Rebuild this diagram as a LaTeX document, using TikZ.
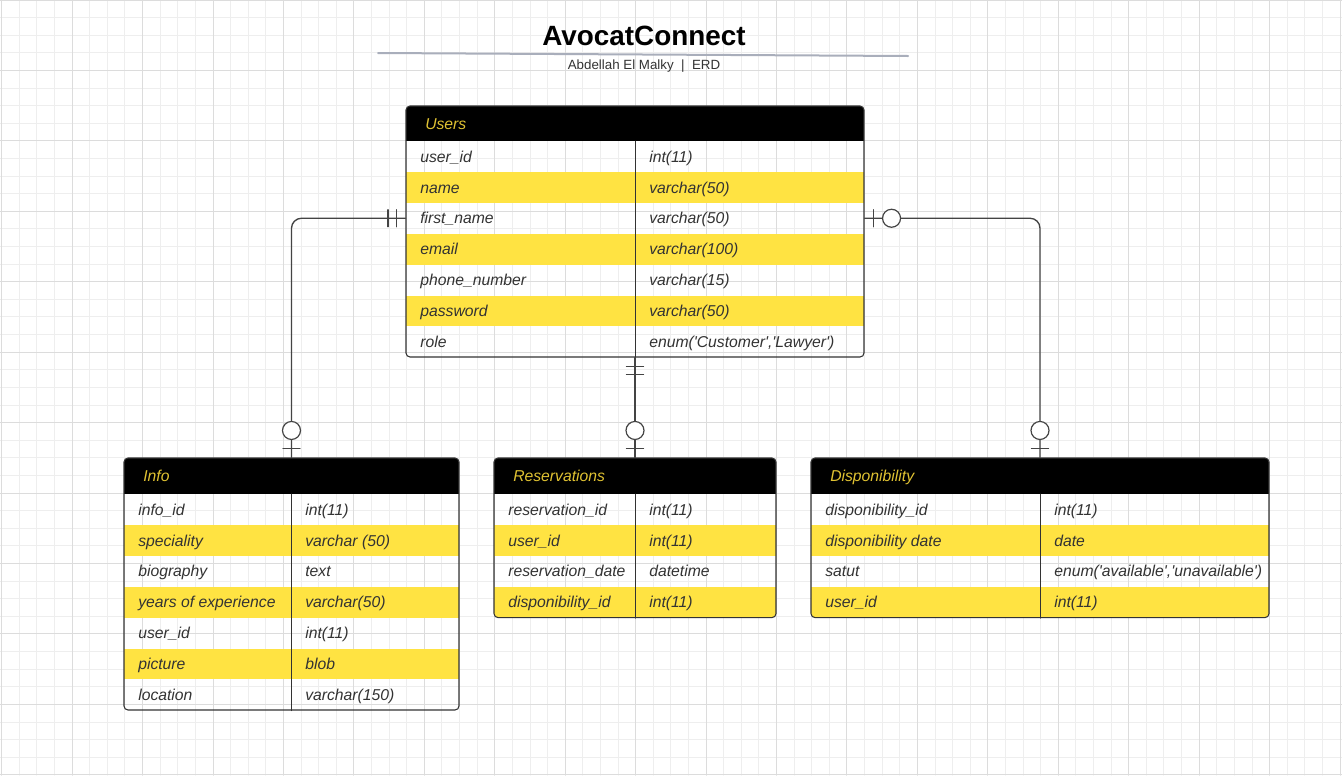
\documentclass[tikz,border=0pt]{standalone}
\usepackage{fontspec}
\setmainfont{Liberation Sans}
\usetikzlibrary{positioning,calc,fit}
\definecolor{rowyellow}{HTML}{FFE342}
\definecolor{hdrgold}{HTML}{E0C232}
\definecolor{txtgray}{HTML}{333333}
\definecolor{framegray}{HTML}{333333}
\definecolor{linkgray}{HTML}{444444}
\definecolor{gridminor}{HTML}{EEEEEE}
\definecolor{gridmajor}{HTML}{DCDCDC}
\definecolor{rulegray}{HTML}{A9AEBB}
\newcommand{\squote}{\textquotesingle}
\begin{document}
\begin{tikzpicture}[x=0.75pt, y=-0.75pt, line join=round, line cap=round,
  font=\fontsize{11.8}{14}\selectfont\itshape,
  tblcell/.style={anchor=base west, inner sep=0pt, text=txtgray},
  tblhead/.style={anchor=base west, inner sep=0pt, text=hdrgold},
  tblframe/.style={draw=framegray, line width=0.8pt, rounded corners=3pt, inner sep=0pt},
  divline/.style={draw=framegray, line width=0.75pt},
  relline/.style={draw=linkgray, line width=1pt},
  tickmark/.style={draw=linkgray, line width=0.9pt},
  optring/.style={draw=linkgray, line width=0.9pt, fill=white}]
\useasboundingbox (0,0) rectangle (1342,775);
\fill[white] (0,0) rectangle (1342,775);
% grid
\foreach \k in {0,...,76} \draw[gridminor, line width=0.75pt] ({1.7+17.61*\k},0) -- ({1.7+17.61*\k},775);
\foreach \k in {0,...,44} \draw[gridminor, line width=0.75pt] (0,{17.61*\k}) -- (1342,{17.61*\k});
\foreach \k in {0,...,19} \draw[gridmajor, line width=0.75pt] ({1.7+70.44*\k},0) -- ({1.7+70.44*\k},775);
\foreach \k in {0,...,11} \draw[gridmajor, line width=0.75pt] (0,{70.44*\k}) -- (1342,{70.44*\k});
% title
\node[font=\fontsize{20.9}{24}\selectfont\bfseries, text=black] (title) at (644,35.5) {AvocatConnect};
\draw[rulegray, line width=1.5pt] (378,53) -- (908,56);
\node[font=\fontsize{10}{12}\selectfont, text=txtgray] (subtitle) at (644,66.3) {Abdellah El Malky\ \ |\ \ ERD};
% Users
\begin{scope}
  \clip[rounded corners=3pt] (406,106) rectangle (864,357);
  \fill[black] (406,106) rectangle (864,141);
  \foreach \i in {2,4,6} \fill[rowyellow] (406,{141+30.9*(\i-1)}) rectangle (864,{141+30.9*\i});
\end{scope}
\node[tblframe, fit={(406,106) (864,357)}] (users) {};
\draw[divline] (635,141) -- (users.south);
\node[tblhead] (users-h) at (425,129.2) {Users};
\foreach \i/\f/\t in {1/user\_id/int(11), 2/name/varchar(50), 3/first\_name/varchar(50), 4/email/varchar(100),
  5/phone\_number/varchar(15), 6/password/varchar(50), 7/role/{enum(\squote Customer\squote,\squote Lawyer\squote)}} {
  \coordinate (users-row\i) at (635,{125.55+30.9*\i});
  \node[tblcell] (users-\i) at (420,{131.25+30.9*\i}) {\f};
  \node[tblcell] (users-t\i) at (649,{131.25+30.9*\i}) {\t};
}
% Info
\begin{scope}
  \clip[rounded corners=3pt] (124,458) rectangle (459,710);
  \fill[black] (124,458) rectangle (459,494);
  \foreach \i in {2,4,6} \fill[rowyellow] (124,{494+30.9*(\i-1)}) rectangle (459,{494+30.9*\i});
\end{scope}
\node[tblframe, fit={(124,458) (459,710)}] (info) {};
\draw[divline] (291.5,494) -- (info.south);
\node[tblhead] (info-h) at (143,481.7) {Info};
\foreach \i/\f/\t in {1/info\_id/int(11), 2/speciality/varchar (50), 3/biography/text, 4/years of experience/varchar(50),
  5/user\_id/int(11), 6/picture/blob, 7/location/varchar(150)} {
  \node[tblcell] (info-\i) at (138,{484.25+30.9*\i}) {\f};
  \node[tblcell] (info-t\i) at (305,{484.25+30.9*\i}) {\t};
}
% Reservations
\begin{scope}
  \clip[rounded corners=3pt] (494,458) rectangle (776,617.6);
  \fill[black] (494,458) rectangle (776,494);
  \foreach \i in {2,4} \fill[rowyellow] (494,{494+30.9*(\i-1)}) rectangle (776,{494+30.9*\i});
\end{scope}
\node[tblframe, fit={(494,458) (776,617.6)}] (res) {};
\draw[divline] (635,494) -- (res.south);
\node[tblhead] (res-h) at (513,481.7) {Reservations};
\foreach \i/\f/\t in {1/reservation\_id/int(11), 2/user\_id/int(11), 3/reservation\_date/datetime, 4/disponibility\_id/int(11)} {
  \node[tblcell] (res-\i) at (508,{484.25+30.9*\i}) {\f};
  \node[tblcell] (res-t\i) at (649,{484.25+30.9*\i}) {\t};
}
% Disponibility
\begin{scope}
  \clip[rounded corners=3pt] (811,458) rectangle (1269,617.6);
  \fill[black] (811,458) rectangle (1269,494);
  \foreach \i in {2,4} \fill[rowyellow] (811,{494+30.9*(\i-1)}) rectangle (1269,{494+30.9*\i});
\end{scope}
\node[tblframe, fit={(811,458) (1269,617.6)}] (disp) {};
\draw[divline] (1040,494) -- (disp.south);
\node[tblhead] (disp-h) at (830,481.7) {Disponibility};
\foreach \i/\f/\t in {1/disponibility\_id/int(11), 2/disponibility date/date,
  3/satut/{enum(\squote available\squote,\squote unavailable\squote)}, 4/user\_id/int(11)} {
  \node[tblcell] (disp-\i) at (825,{484.25+30.9*\i}) {\f};
  \node[tblcell] (disp-t\i) at (1054,{484.25+30.9*\i}) {\t};
}
% Users -- Info
\draw[relline, rounded corners=7.5pt] (users.west |- users-row3) -| (info.north);
\draw[tickmark] ($(users.west |- users-row3)+(-9,-8.5)$) -- ++(0,17);
\draw[tickmark] ($(users.west |- users-row3)+(-17.5,-8.5)$) -- ++(0,17);
\draw[tickmark] ($(info.north)+(-8.5,-9)$) -- ++(17,0);
\draw[optring] ($(info.north)+(0,-27)$) circle[radius=9];
% Users -- Reservations
\draw[relline] (users.south) -- (res.north);
\draw[tickmark] ($(users.south)+(-8.5,9)$) -- ++(17,0);
\draw[tickmark] ($(users.south)+(-8.5,17)$) -- ++(17,0);
\draw[tickmark] ($(res.north)+(-8.5,-9)$) -- ++(17,0);
\draw[optring] ($(res.north)+(0,-27)$) circle[radius=9];
% Users -- Disponibility
\draw[relline, rounded corners=7.5pt] (users.east |- users-row3) -| (disp.north);
\draw[tickmark] ($(users.east |- users-row3)+(9,-8.5)$) -- ++(0,17);
\draw[optring] ($(users.east |- users-row3)+(27,0)$) circle[radius=9];
\draw[tickmark] ($(disp.north)+(-8.5,-9)$) -- ++(17,0);
\draw[optring] ($(disp.north)+(0,-27)$) circle[radius=9];
\end{tikzpicture}
\end{document}
